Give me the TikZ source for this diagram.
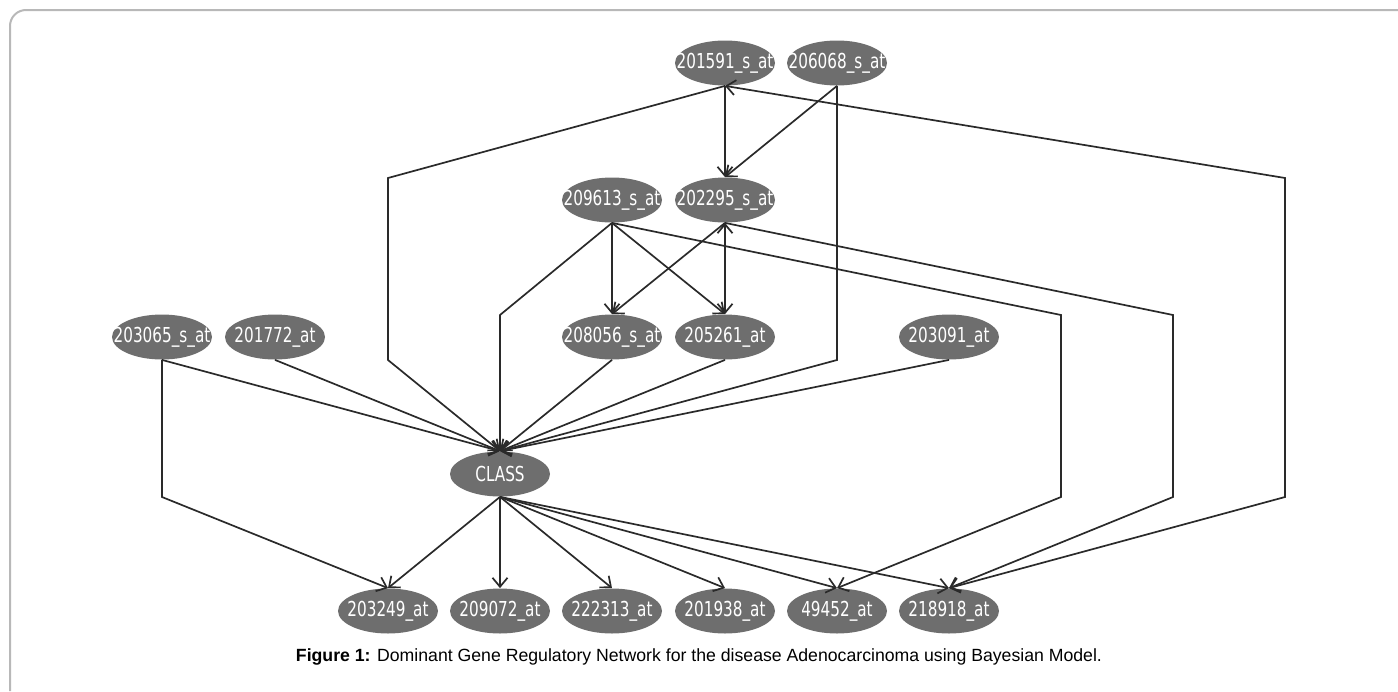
\documentclass[tikz,border=0pt]{standalone}
\usepackage{fontspec}
\usepackage{graphicx}
\setmainfont{Liberation Sans}
\newfontfamily\nodefont{DejaVu Sans}
\usetikzlibrary{shapes.geometric,arrows.meta}
\definecolor{nodefill}{HTML}{6E6E6E}
\definecolor{edgecol}{HTML}{2A2A2A}
\definecolor{framecol}{HTML}{B8B8B8}
\newcommand{\gl}[1]{\makebox[0pt]{\scalebox{0.74}[1]{#1}}}
\begin{document}
\begin{tikzpicture}[x=0.5pt,y=-0.5pt,
  gnode/.style={ellipse, fill=nodefill, draw=none, minimum width=50pt, minimum height=22.5pt, inner sep=0pt, text=white, font=\nodefont\fontsize{10.3}{12}\selectfont},
  edge/.style={draw=edgecol, line width=0.85pt, -{Straight Barb[length=4.5pt,width=7.5pt]}},
  biedge/.style={draw=edgecol, line width=0.85pt, {Straight Barb[length=4.5pt,width=7.5pt]}-{Straight Barb[length=4.5pt,width=7.5pt]}}
  ]
\useasboundingbox (0,0) rectangle (1398,691);
\draw[framecol, line width=1pt, rounded corners=8pt] (1398,10) -- (10,10) -- (10,691);

% row 1
\node[gnode] (a201591) at (725,63) {\gl{201591\_s\_at}};
\node[gnode] (a206068) at (837,63) {\gl{206068\_s\_at}};
% row 2
\node[gnode] (a209613) at (612,200) {\gl{209613\_s\_at}};
\node[gnode] (a202295) at (725,200) {\gl{202295\_s\_at}};
% row 3
\node[gnode] (a203065) at (162,337) {\gl{203065\_s\_at}};
\node[gnode] (a201772) at (275,337) {\gl{201772\_at}};
\node[gnode] (a208056) at (612,337) {\gl{208056\_s\_at}};
\node[gnode] (a205261) at (725,337) {\gl{205261\_at}};
\node[gnode] (a203091) at (949,337) {\gl{203091\_at}};
% row 4
\node[gnode] (cls) at (500,474) {\gl{CLASS}};
% row 5
\node[gnode] (a203249) at (388,611) {\gl{203249\_at}};
\node[gnode] (a209072) at (500,611) {\gl{209072\_at}};
\node[gnode] (a222313) at (612,611) {\gl{222313\_at}};
\node[gnode] (a201938) at (725,611) {\gl{201938\_at}};
\node[gnode] (a49452) at (837,611) {\gl{49452\_at}};
\node[gnode] (a218918) at (949,611) {\gl{218918\_at}};

% bend points
\coordinate (b1a) at (388,178); \coordinate (b1b) at (388,360);
\coordinate (b2) at (837,360);
\coordinate (b3) at (500,315);
\coordinate (b4a) at (1285,178); \coordinate (b4b) at (1285,497);
\coordinate (b5a) at (1173,315); \coordinate (b5b) at (1173,497);
\coordinate (b6a) at (1061,315); \coordinate (b6b) at (1061,497);
\coordinate (b7) at (162,497);

% edges
\draw[edge] (a201591.south) -- (a202295.north);
\draw[edge] (a206068.south) -- (a202295.north);
\draw[edge] (a206068.south) -- (b2) -- (cls.north);
\draw[edge] (a201591.south) -- (b1a) -- (b1b) -- (cls.north);
\draw[biedge] (a201591.south) -- (b4a) -- (b4b) -- (a218918.north);
\draw[edge] (a209613.south) -- (b3) -- (cls.north);
\draw[edge] (a209613.south) -- (a208056.north);
\draw[edge] (a209613.south) -- (a205261.north);
\draw[edge] (a209613.south) -- (b6a) -- (b6b) -- (a49452.north);
\draw[edge] (a202295.south) -- (a208056.north);
\draw[biedge] (a202295.south) -- (a205261.north);
\draw[edge] (a202295.south) -- (b5a) -- (b5b) -- (a218918.north);
\draw[edge] (a203065.south) -- (cls.north);
\draw[edge] (a203065.south) -- (b7) -- (a203249.north);
\draw[edge] (a201772.south) -- (cls.north);
\draw[edge] (a208056.south) -- (cls.north);
\draw[edge] (a205261.south) -- (cls.north);
\draw[edge] (a203091.south) -- (cls.north);
\draw[edge] (cls.south) -- (a203249.north);
\draw[edge] (cls.south) -- (a209072.north);
\draw[edge] (cls.south) -- (a222313.north);
\draw[edge] (cls.south) -- (a201938.north);
\draw[edge] (cls.south) -- (a49452.north);
\draw[edge] (cls.south) -- (a218918.north);

\node[inner sep=0pt] (cap) at (699,657) {\resizebox{403pt}{!}{\textbf{Figure 1:} Dominant Gene Regulatory Network for the disease Adenocarcinoma using Bayesian Model.}};
\end{tikzpicture}
\end{document}
